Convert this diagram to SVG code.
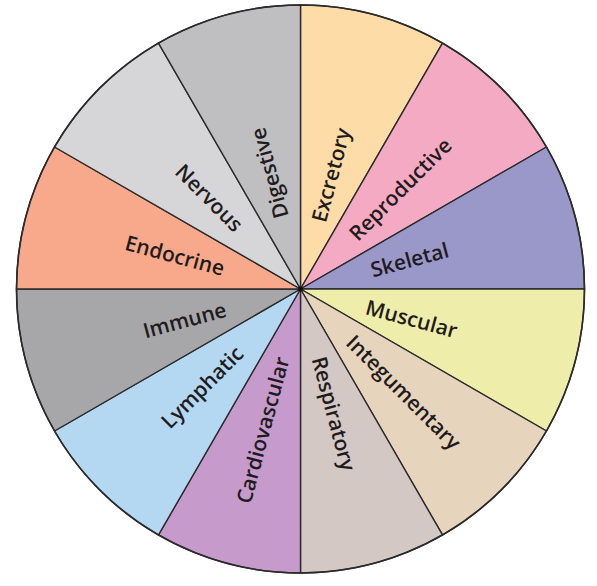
<svg xmlns="http://www.w3.org/2000/svg" width="597" height="586" viewBox="0 0 597 586">
<style>
.s{stroke:#2b2b2b;stroke-width:1.4;stroke-linejoin:round}
.t{font-family:"Open Sans","Noto Sans","Liberation Sans",sans-serif;font-weight:600;font-size:21px;fill:#1f1c1d;text-anchor:middle}
</style>
<rect width="597" height="586" fill="#ffffff"/>
<g id="sectors">
<g id="excretory"><path class="s" fill="#FEDCA8" d="M300.5 289 L300.5 5 A284 284 0 0 1 442.5 43.05 Z"/><text class="t" transform="translate(331 175) rotate(-75)" dy="0.36em">Excretory</text></g>
<g id="reproductive"><path class="s" fill="#F4AAC2" d="M300.5 289 L442.5 43.05 A284 284 0 0 1 546.45 147 Z"/><text class="t" transform="translate(400.2 189.3) rotate(-45)" dy="0.36em">Reproductive</text></g>
<g id="skeletal"><path class="s" fill="#9A98C9" d="M300.5 289 L546.45 147 A284 284 0 0 1 584.5 289 Z"/><text class="t" transform="translate(409.6 259.8) rotate(-15)" dy="0.36em">Skeletal</text></g>
<g id="muscular"><path class="s" fill="#EEEDAA" d="M300.5 289 L584.5 289 A284 284 0 0 1 546.45 431 Z"/><text class="t" transform="translate(411.6 318.8) rotate(15)" dy="0.36em">Muscular</text></g>
<g id="integumentary"><path class="s" fill="#E7D4BD" d="M300.5 289 L546.45 431 A284 284 0 0 1 442.5 534.95 Z"/><text class="t" transform="translate(403.7 392.2) rotate(45)" dy="0.36em">Integumentary</text></g>
<g id="respiratory"><path class="s" fill="#D3C8C3" d="M300.5 289 L442.5 534.95 A284 284 0 0 1 300.5 573 Z"/><text class="t" transform="translate(333.9 413.6) rotate(75)" dy="0.36em">Respiratory</text></g>
<g id="cardiovascular"><path class="s" fill="#C69ACB" d="M300.5 289 L300.5 573 A284 284 0 0 1 158.5 534.95 Z"/><text class="t" transform="translate(262.7 430) rotate(-75)" dy="0.36em">Cardiovascular</text></g>
<g id="lymphatic"><path class="s" fill="#B5D8F2" d="M300.5 289 L158.5 534.95 A284 284 0 0 1 54.55 431 Z"/><text class="t" transform="translate(202.2 387.3) rotate(-45)" dy="0.36em">Lymphatic</text></g>
<g id="immune"><path class="s" fill="#A7A7A9" d="M300.5 289 L54.55 431 A284 284 0 0 1 16.5 289 Z"/><text class="t" transform="translate(184.6 320.1) rotate(-15)" dy="0.36em">Immune</text></g>
<g id="endocrine"><path class="s" fill="#F9A98B" d="M300.5 289 L16.5 289 A284 284 0 0 1 54.55 147 Z"/><text class="t" transform="translate(174.9 255.4) rotate(15)" dy="0.36em">Endocrine</text></g>
<g id="nervous"><path class="s" fill="#D6D6D8" d="M300.5 289 L54.55 147 A284 284 0 0 1 158.5 43.05 Z"/><text class="t" transform="translate(209.3 197.8) rotate(45)" dy="0.36em">Nervous</text></g>
<g id="digestive"><path class="s" fill="#BFBFC1" d="M300.5 289 L158.5 43.05 A284 284 0 0 1 300.5 5 Z"/><text class="t" transform="translate(269.4 173.1) rotate(-105)" dy="0.36em">Digestive</text></g>
</g>
<g id="connectors">
<circle cx="300.5" cy="289" r="284" fill="none" stroke="#2b2b2b" stroke-width="1.6"/>
<circle cx="300.5" cy="289" r="2.5" fill="#111"/>
</g>
</svg>
